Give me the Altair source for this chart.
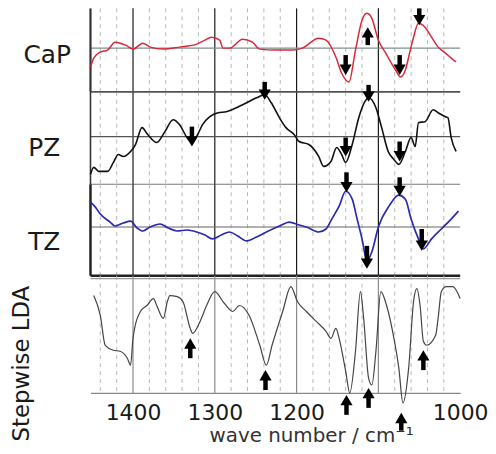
import altair as alt
import pandas as pd

FONT = "DejaVu Sans"

# ---------------- data ----------------
cap_wn = [1452, 1448, 1440, 1431, 1422, 1409, 1400, 1388, 1379, 1363, 1343, 1322, 1312, 1304, 1294,
          1290, 1282, 1266, 1254, 1245, 1225, 1205, 1193, 1173, 1164, 1152, 1145, 1136, 1128, 1120,
          1114, 1108, 1100, 1091, 1079, 1073, 1067, 1061, 1057, 1051, 1043, 1035, 1027, 1018, 1011, 1005]
cap_val = [-19, -10, -4, -2, 6, 3, -1, 5, 1, -1, 1, 4, 8, 11, 8,
           0, 0, 9, 6, -1, -2, -2, 0, 10, 8, -9, -25, -34, -2, 28,
           35, 30, 8, -5, -22, -29, -22, -2, 11, 25, 21, 11, 1, -5, -10, -14]

pz_wn = [1452, 1448, 1442, 1431, 1424, 1418, 1412, 1403, 1397, 1389, 1382, 1371, 1361, 1351, 1343,
         1334, 1328, 1321, 1315, 1306, 1296, 1286, 1266, 1249, 1239, 1231, 1221, 1213, 1203, 1197,
         1185, 1173, 1167, 1158, 1151, 1145, 1140, 1132, 1124, 1115, 1112, 1103, 1096, 1088, 1081,
         1075, 1067, 1060, 1055, 1051, 1043, 1033, 1027, 1018, 1015, 1011, 1005]
pz_val = [-38, -31, -35, -35, -26, -18, -20, -15, -8, 9, 2, -6, 5, 17, 12,
          -1, -6, 2, 12, 20, 24, 25, 32, 39, 42, 34, 19, 9, 2, -5,
          -8, -20, -30, -25, -11, -18, -26, -8, 19, 37, 39, 29, 9, -15, -23,
          -28, -15, -1, -10, 14, 15, 27, 24, 20, 19, -1, -15]

tz_wn = [1452, 1446, 1440, 1428, 1422, 1412, 1403, 1395, 1388, 1379, 1367, 1357, 1346, 1334, 1322,
         1312, 1303, 1292, 1282, 1272, 1261, 1249, 1237, 1221, 1209, 1197, 1188, 1173, 1164, 1157,
         1148, 1140, 1132, 1126, 1120, 1114, 1108, 1100, 1087, 1075, 1067, 1060, 1051, 1045, 1035,
         1023, 1011, 1002]
tz_val = [25, 20, 13, 5, 1, 4, 6, -1, -4, 0, 3, -1, -4, -3, -5,
          -8, -12, -8, -5, -9, -14, -10, -5, 1, 5, 2, 0, -5, -2, 8,
          21, 36, 28, 8, -12, -34, -25, 0, 21, 32, 28, 8, -12, -22, -12,
          -2, 8, 16]

lda_wn = [1448, 1440, 1434, 1424, 1416, 1407, 1403, 1400, 1391, 1383, 1375, 1371, 1363, 1358, 1355,
          1346, 1339, 1330, 1327, 1318, 1310, 1300, 1290, 1278, 1270, 1258, 1245, 1237, 1230, 1217,
          1207, 1199, 1188, 1176, 1164, 1158, 1152, 1148, 1140, 1135, 1128, 1122, 1118, 1112, 1108,
          1103, 1097, 1090, 1081, 1075, 1070, 1063, 1057, 1053, 1049, 1045, 1041, 1030, 1027, 1023,
          1017, 1009, 1000]
lda_val = [98, 78, 48, 43, 42, 35, 28, 55, 82, 88, 95, 88, 75, 92, 98,
           97, 92, 65, 60, 72, 88, 102, 92, 82, 88, 78, 48, 28, 48, 82,
           107, 92, 82, 72, 62, 55, 65, 55, 22, 0, 42, 102, 75, 15, 8,
           42, 102, 88, 55, 25, -10, 25, 92, 105, 88, 52, 48, 58, 75, 102,
           107, 107, 95]

# arrows: wave number, direction, tail value, tip value
cap_arrow_wn = [1140, 1113, 1074, 1050]
cap_arrow_dir = ["down", "up", "down", "down"]
cap_arrow_tail = [-7, 3, -7, 40]
cap_arrow_tip = [-27, 21, -27, 23]

pz_arrow_wn = [1328, 1239, 1140, 1112, 1074]
pz_arrow_dir = ["down", "down", "down", "down", "down"]
pz_arrow_tail = [10, 55, -1, 52, -5]
pz_arrow_tip = [-10, 37, -20, 35, -25]

tz_arrow_wn = [1139, 1114, 1074, 1047]
tz_arrow_dir = ["down", "down", "down", "down"]
tz_arrow_tail = [55, -19, 50, -2]
tz_arrow_tip = [35, -42, 31, -24]

lda_arrow_wn = [1330, 1238, 1139, 1112, 1072, 1045]
lda_arrow_dir = ["up", "up", "up", "up", "up", "up"]
lda_arrow_tail = [35, 3, -22, -15, -38, 23]
lda_arrow_tip = [55, 23, -2, 5, -20, 43]

major_lines = [1400, 1300, 1200, 1100]
minor_lines = [w for w in range(1000, 1460, 20) if w % 100 != 0]
x_labels = [1400, 1300, 1200, 1000]

# ---------------- chart ----------------
W = 372
X_SCALE = alt.Scale(domain=[1000, 1452], reverse=True, nice=False, zero=False)
DOWN_PATH = "M-1,-1.7L1,-1.7L0,0Z"
UP_PATH = "M-1,1.7L1,1.7L0,0Z"


def panel(wn, val, color, sw, ydom, height, yaxis, arrows, hlines, left_frame,
          major_color, xaxis=None):
    yscale = alt.Scale(domain=ydom, nice=False, zero=False)

    def X(field="wn"):
        return alt.X(f"{field}:Q", scale=X_SCALE, axis=xaxis)

    def Y(field="v"):
        return alt.Y(f"{field}:Q", scale=yscale, axis=yaxis)

    layers = []
    layers.append(
        alt.Chart(pd.DataFrame({"wn": minor_lines}))
        .mark_rule(color="#b8b8b8", strokeDash=[4, 4], strokeWidth=1)
        .encode(x=X())
    )
    layers.append(
        alt.Chart(pd.DataFrame({"wn": major_lines}))
        .mark_rule(color=major_color, strokeWidth=1.2)
        .encode(x=X())
    )
    for v, c, w in hlines:
        layers.append(
            alt.Chart(pd.DataFrame({"v": [v]}))
            .mark_rule(color=c, strokeWidth=w)
            .encode(y=Y())
        )
    if left_frame:
        c, w = left_frame
        layers.append(
            alt.Chart(pd.DataFrame({"wn": [1452]}))
            .mark_rule(color=c, strokeWidth=w)
            .encode(x=X())
        )
    layers.append(
        alt.Chart(pd.DataFrame({"wn": wn, "v": val}))
        .mark_line(color=color, strokeWidth=sw, interpolate="monotone")
        .encode(x=X(), y=Y())
    )
    awn, adir, atail, atip = arrows
    adf = pd.DataFrame({"wn": awn, "dir": adir, "tail": atail, "tip": atip})
    base = alt.Chart(adf).transform_calculate(
        shaft="datum.dir == 'down' ? datum.tip + 5 : datum.tip - 5"
    )
    layers.append(
        base.mark_rule(color="black", strokeWidth=4.5, strokeCap="butt")
        .encode(x=X(), y=Y("tail"), y2="shaft:Q")
    )
    layers.append(
        base.mark_point(filled=True, color="black", opacity=1, size=150, strokeWidth=0)
        .encode(
            x=X(),
            y=Y("tip"),
            shape=alt.Shape("dir:N", scale=alt.Scale(domain=["down", "up"], range=[DOWN_PATH, UP_PATH]),
                            legend=None),
        )
    )
    return alt.layer(*layers).properties(width=W, height=height)


def left_title(text, tx, ty, angle=0):
    return alt.Axis(title=text, titleAngle=angle, titleX=tx, titleY=ty, titleAlign="center",
                    titleBaseline="middle", titleFont=FONT, titleFontSize=25 if angle == 0 else 23,
                    titleFontWeight="normal", titleColor="#1a1a1a",
                    labels=False, ticks=False, domain=False, grid=False)


cap = panel(cap_wn, cap_val, "#d8283a", 1.5, [-44, 40], 84,
            left_title("CaP", -44, 46),
            (cap_arrow_wn, cap_arrow_dir, cap_arrow_tail, cap_arrow_tip),
            [(0, "#7d8f8f", 1.2), (-44, "#555555", 1.5)],
            ("#333333", 2.2), "#1a1a1a")

pz = panel(pz_wn, pz_val, "#111111", 1.6, [-48, 45], 93,
           left_title("PZ", -47, 56),
           (pz_arrow_wn, pz_arrow_dir, pz_arrow_tail, pz_arrow_tip),
           [(0, "#555555", 1.2), (45, "#555555", 1.2), (-48, "#777777", 1.2)],
           ("#333333", 1.6), "#1a1a1a")

tz = panel(tz_wn, tz_val, "#2a2ab0", 1.7, [-49, 43], 92,
           left_title("TZ", -47, 58),
           (tz_arrow_wn, tz_arrow_dir, tz_arrow_tail, tz_arrow_tip),
           [(0, "#666666", 1.2), (-49, "#222222", 2.5)],
           ("#222222", 2.5), "#1a1a1a")

x_axis = alt.Axis(values=x_labels, format="d", labelFont=FONT, labelFontSize=22, labelColor="#1a1a1a",
                  labelPadding=10, labelFlush=False, labelAlign="center", labelOverlap=False, ticks=False,
                  domain=True, domainColor="#888888", domainWidth=1.3, grid=False,
                  title="wave number / cm⁻¹", titleFont=FONT, titleFontSize=20,
                  titleFontWeight="normal", titleColor="#333333", titleX=222, titleAlign="center",
                  titlePadding=2)

lda = panel(lda_wn, lda_val, "#444444", 1.2, [0, 118], 118,
            left_title("Stepwise LDA", -69, 88, angle=270),
            (lda_arrow_wn, lda_arrow_dir, lda_arrow_tail, lda_arrow_tip),
            [(115, "#999999", 1.2)],
            None, "#8a8a8a", xaxis=x_axis)

chart = (
    alt.vconcat(cap, pz, tz, lda, spacing=0, bounds="flush")
    .properties(padding={"left": 3, "top": -4, "right": 0, "bottom": 0}, background="white")
    .configure_view(stroke=None)
)

chart.save("out.html", embed_options={"renderer": "svg", "actions": False})
